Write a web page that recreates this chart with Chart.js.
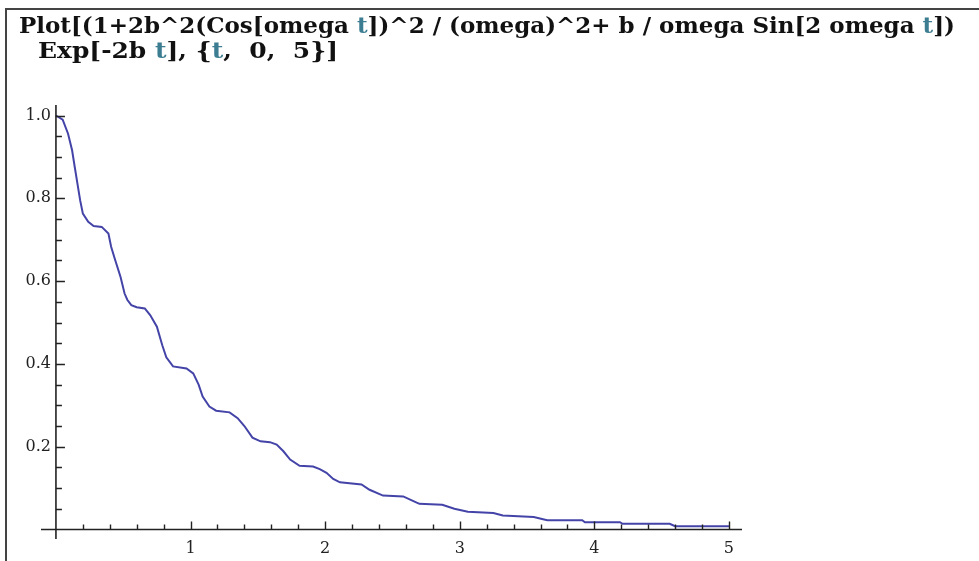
<!DOCTYPE html>
<html>
<head>
<meta charset="utf-8">
<script src="https://cdn.jsdelivr.net/npm/chart.js@4/dist/chart.umd.min.js"></script>
<style>
  html, body { margin: 0; padding: 0; background: #fff; }
  #wrap { position: relative; width: 979px; height: 561px; overflow: hidden; }
  #frame { position: absolute; left: 5px; top: 8px; right: 0; bottom: 0;
           border-left: 2px solid #444; border-top: 2px solid #444; }
  .input { position: absolute; white-space: pre; font-family: "DejaVu Serif", serif;
           font-weight: bold; font-size: 22px; color: #111; transform-origin: 0 0; }
  .input .v { color: #3c7d91; }
  #plot { position: absolute; left: 0; top: 0; }
</style>
</head>
<body>
<div id="wrap">
  <div id="frame"></div>
  <canvas id="plot" width="979" height="561"></canvas>
  <div class="input" id="row1" data-left="19" data-right="955" style="left:19px; top:12px;">Plot[(1+2b^2(Cos[omega <span class="v">t</span>])^2 / (omega)^2+ b / omega Sin[2 omega <span class="v">t</span>])</div>
  <div class="input" id="row2" data-left="38" data-right="338" style="left:38px; top:37px;">Exp[-2b <span class="v">t</span>], {<span class="v">t</span>,  0,  5}]</div>
</div>
<script>
// curve
const tValues = [0, 0.05, 0.09, 0.12, 0.14, 0.16, 0.18, 0.2, 0.24, 0.28, 0.34, 0.39, 0.41, 0.44, 0.48, 0.51,
  0.53, 0.56, 0.6, 0.66, 0.7, 0.75, 0.79, 0.82, 0.87, 0.97, 1.02, 1.06, 1.09, 1.14, 1.19, 1.29, 1.35, 1.4,
  1.46, 1.52, 1.59, 1.64, 1.69, 1.74, 1.81, 1.91, 1.96, 2.01, 2.06, 2.11, 2.27, 2.33, 2.43, 2.58, 2.66, 2.7,
  2.87, 2.96, 3.06, 3.25, 3.32, 3.55, 3.65, 3.91, 3.93, 4.19, 4.21, 4.56, 4.6, 5];
const yValues = [1.0, 0.99, 0.956, 0.916, 0.875, 0.835, 0.795, 0.763, 0.743, 0.733, 0.731, 0.715, 0.683, 0.651, 0.61, 0.57,
  0.555, 0.542, 0.537, 0.534, 0.518, 0.49, 0.445, 0.416, 0.394, 0.389, 0.377, 0.35, 0.321, 0.297, 0.287, 0.283, 0.269, 0.25,
  0.222, 0.213, 0.211, 0.205, 0.189, 0.169, 0.154, 0.152, 0.146, 0.137, 0.122, 0.114, 0.109, 0.096, 0.082, 0.08, 0.068, 0.062,
  0.06, 0.05, 0.043, 0.04, 0.034, 0.03, 0.0225, 0.0225, 0.0177, 0.0177, 0.0137, 0.0137, 0.008, 0.008];

const xTickValues = [1, 2, 3, 4, 5];
const xTickLabels = ['1', '2', '3', '4', '5'];
const yTickValues = [0.2, 0.4, 0.6, 0.8, 1.0];
const yTickLabels = ['0.2', '0.4', '0.6', '0.8', '1.0'];
const xMinorStep = 0.2;
const yMinorStep = 0.05;

// fit the input rows to the width they take in the notebook
document.querySelectorAll('.input').forEach(el => {
    const want = el.dataset.right - el.dataset.left;
    const have = el.getBoundingClientRect().width;
    el.style.transform = 'scaleX(' + (want / have) + ')';
});

// Mathematica style axes crossing at the origin
const mathAxes = {
    id: 'mathAxes',
    afterDatasetsDraw(chart) {
        const ctx = chart.ctx;
        const xs = chart.scales.x, ys = chart.scales.y;
        const area = chart.chartArea;
        const x0 = xs.getPixelForValue(0), y0 = ys.getPixelForValue(0);
        ctx.save();
        ctx.strokeStyle = '#222';
        ctx.lineWidth = 1.6;
        ctx.beginPath();
        ctx.moveTo(x0, area.top); ctx.lineTo(x0, area.bottom);
        ctx.moveTo(area.left, y0); ctx.lineTo(area.right, y0);
        ctx.stroke();

        ctx.lineWidth = 1.4;
        ctx.beginPath();
        for (let v = xMinorStep; v <= 5.0001; v += xMinorStep) {
            const major = Math.abs(v - Math.round(v)) < 1e-6;
            const px = Math.round(xs.getPixelForValue(v)) + 0.5;
            ctx.moveTo(px, y0); ctx.lineTo(px, y0 - (major ? 8 : 5));
        }
        for (let v = yMinorStep; v <= 1.0001; v += yMinorStep) {
            const major = yTickValues.some(t => Math.abs(t - v) < 1e-6);
            const py = Math.round(ys.getPixelForValue(v)) + 0.5;
            ctx.moveTo(x0, py); ctx.lineTo(x0 + (major ? 9 : 6), py);
        }
        ctx.stroke();

        ctx.fillStyle = '#222';
        ctx.font = '16px "DejaVu Serif", serif';
        ctx.textAlign = 'center';
        ctx.textBaseline = 'middle';
        xTickValues.forEach((v, i) => {
            ctx.fillText(xTickLabels[i], xs.getPixelForValue(v), y0 + 19);
        });
        ctx.textAlign = 'right';
        yTickValues.forEach((v, i) => {
            ctx.fillText(yTickLabels[i], x0 - 5, ys.getPixelForValue(v));
        });
        ctx.restore();
    }
};

new Chart(
    document.getElementById('plot'),
    {
        type: 'line',
        data: {
            datasets: [{
                data: tValues.map((t, i) => ({ x: t, y: yValues[i] })),
                borderColor: '#4444a8',
                borderWidth: 2,
                pointRadius: 0,
                tension: 0,
                fill: false
            }]
        },
        options: {
            responsive: false,
            animation: false,
            layout: {
                padding: { left: 41, right: 237, top: 105, bottom: 22 }
            },
            scales: {
                x: {
                    type: 'linear',
                    min: -0.111,
                    max: 5.097,
                    display: false
                },
                y: {
                    type: 'linear',
                    min: -0.0229,
                    max: 1.0254,
                    display: false
                }
            },
            plugins: {
                legend: { display: false },
                tooltip: { enabled: false }
            }
        },
        plugins: [mathAxes]
    }
);
</script>
</body>
</html>
